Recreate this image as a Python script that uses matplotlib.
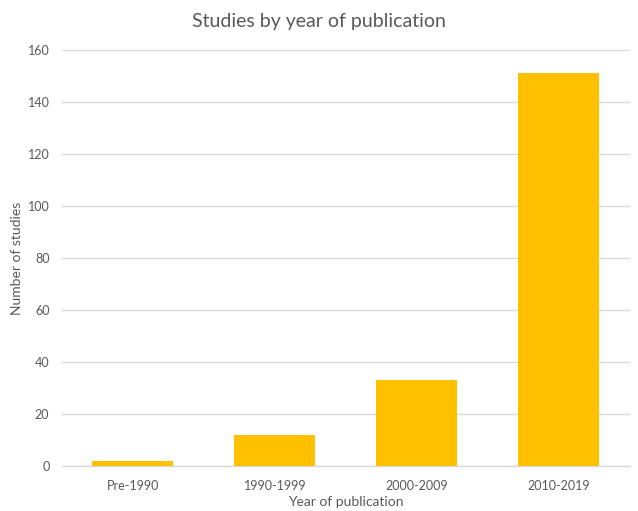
import numpy as np
import matplotlib.pyplot as plt

plt.rcParams["font.family"] = ["Lato", "DejaVu Sans"]

# data
categories = ["Pre-1990", "1990-1999", "2000-2009", "2010-2019"]
studies = [2, 12, 33, 151]
y_ticks = [0, 20, 40, 60, 80, 100, 120, 140, 160]

BAR_COLOR = "#FFC000"
TEXT_COLOR = "#595959"
GRID_COLOR = "#D9D9D9"

fig = plt.figure(figsize=(6.38, 5.11), dpi=100)
ax = fig.add_axes([0.097, 0.088, 0.890, 0.814])

x = np.arange(len(categories))
ax.bar(x, studies, width=0.57, color=BAR_COLOR, zorder=3)

ax.set_xlim(-0.5, len(categories) - 0.5)
ax.set_ylim(0, 160)
ax.set_yticks(y_ticks)
ax.set_xticks(x)
ax.set_xticklabels(categories)

ax.grid(axis="y", color=GRID_COLOR, linewidth=1.0, zorder=0)
ax.grid(axis="x", visible=False)

for side in ["top", "right", "left"]:
    ax.spines[side].set_visible(False)
ax.spines["bottom"].set_color(GRID_COLOR)
ax.spines["bottom"].set_linewidth(1.0)

ax.tick_params(axis="y", length=0, labelsize=9, labelcolor=TEXT_COLOR, pad=9)
ax.tick_params(axis="x", length=0, labelsize=9, labelcolor=TEXT_COLOR, pad=10)

ax.set_xlabel("Year of publication", fontsize=10, color=TEXT_COLOR, labelpad=3)
ax.set_ylabel("Number of studies", fontsize=10, color=TEXT_COLOR, labelpad=3)
fig.suptitle("Studies by year of publication", fontsize=14, color=TEXT_COLOR, y=0.975)

fig.savefig("out.png", dpi=100)
